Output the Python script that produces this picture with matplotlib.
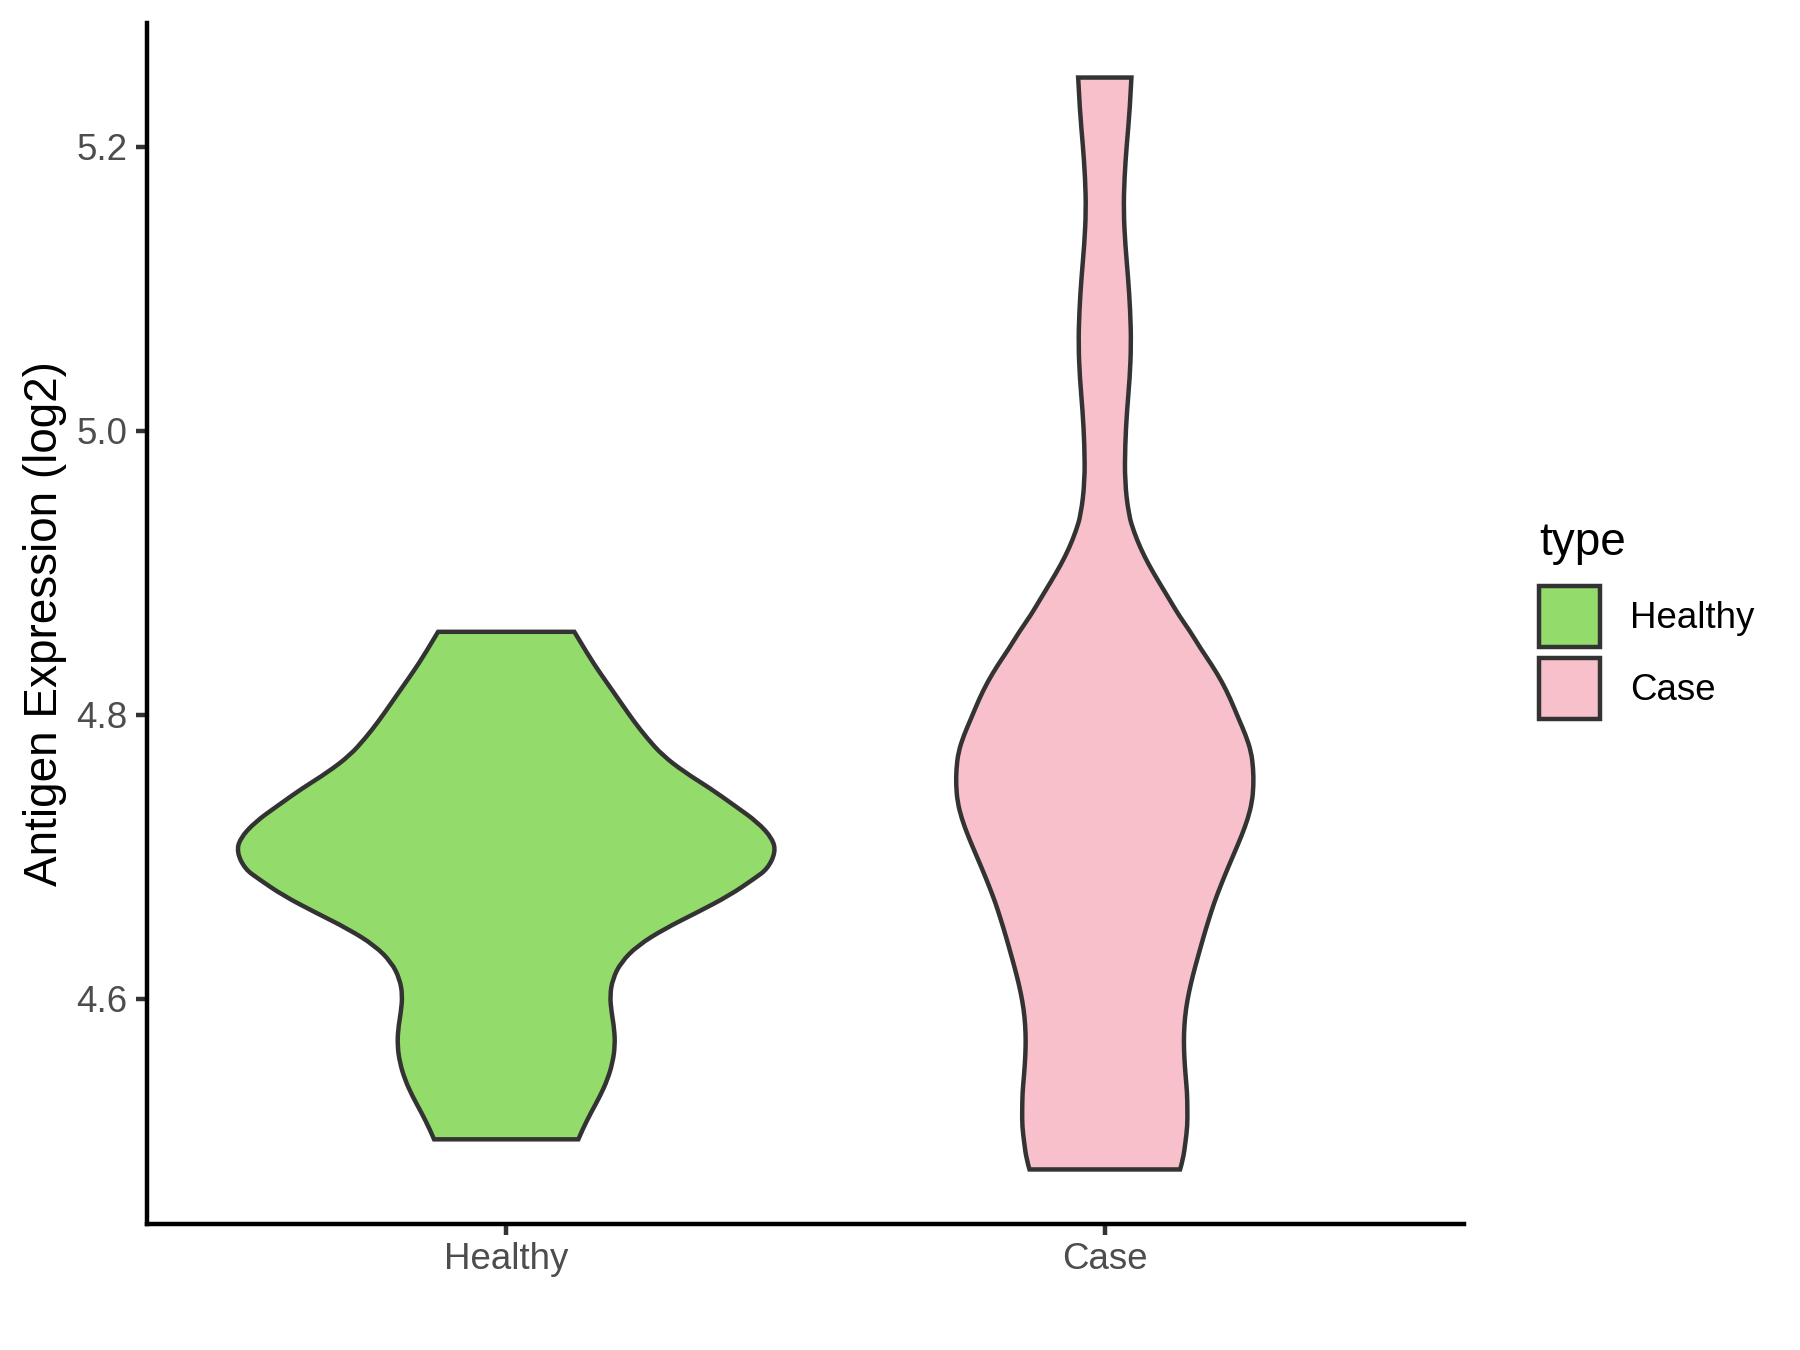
import matplotlib
matplotlib.use("Agg")
import matplotlib.pyplot as plt
from matplotlib.patches import Patch, PathPatch
from matplotlib.path import Path

plt.rcParams["font.family"] = ["Liberation Sans", "DejaVu Sans"]

groups = ["Healthy", "Case"]
fill_colors = ["#93DB6B", "#F7C0CB"]

# violin outlines: expression value and half width (x units)
healthy_y = [4.8585, 4.8421, 4.8303, 4.8186, 4.8068, 4.7951, 4.7833, 4.7716, 4.7598,
             4.748, 4.7363, 4.7245, 4.7128, 4.7034, 4.6916, 4.6846, 4.6728, 4.6611,
             4.6493, 4.6376, 4.6258, 4.614, 4.6023, 4.5906, 4.5788, 4.5671, 4.5553,
             4.5435, 4.5318, 4.52, 4.5083, 4.5012]
healthy_w = [0.1138, 0.137, 0.1555, 0.175, 0.1945, 0.214, 0.236, 0.261, 0.2975,
             0.342, 0.381, 0.42, 0.445, 0.45, 0.4366, 0.414, 0.3726, 0.3197,
             0.264, 0.2195, 0.1917, 0.1778, 0.1733, 0.176, 0.1806, 0.1817, 0.1778,
             0.1694, 0.157, 0.1416, 0.1277, 0.1205]

case_y = [5.2487, 5.2252, 5.2017, 5.1782, 5.1547, 5.1312, 5.1077, 5.0842, 5.0607,
          5.0372, 5.0137, 4.9902, 4.9643, 4.9408, 4.929, 4.9173, 4.9056, 4.8938,
          4.882, 4.8703, 4.8585, 4.8468, 4.835, 4.8233, 4.8115, 4.7974, 4.7857,
          4.7739, 4.7621, 4.7504, 4.7386, 4.7269, 4.7151, 4.7034, 4.6916, 4.6799,
          4.6681, 4.6563, 4.6446, 4.6281, 4.6164, 4.6047, 4.5929, 4.5812, 4.5694,
          4.5576, 4.5459, 4.5341, 4.5224, 4.5106, 4.4989, 4.4871, 4.480]
case_w = [0.0445, 0.0417, 0.0367, 0.0328, 0.0314, 0.0342, 0.039, 0.0426, 0.044,
          0.0417, 0.037, 0.034, 0.0334, 0.040, 0.0486, 0.0597, 0.0736, 0.090,
          0.107, 0.1235, 0.143, 0.160, 0.179, 0.1957, 0.2096, 0.2235, 0.2355,
          0.2446, 0.248, 0.2485, 0.246, 0.239, 0.2287, 0.217, 0.205, 0.1937,
          0.183, 0.174, 0.1655, 0.1545, 0.147, 0.1405, 0.1355, 0.1328, 0.132,
          0.133, 0.135, 0.1375, 0.138, 0.138, 0.1347, 0.1308, 0.1258]

y_ticks = [4.6, 4.8, 5.0, 5.2]


def smooth_side(pts):
    # quadratic bezier: measured points are control points, midpoints on the curve
    verts, codes = [], []
    n = len(pts)
    for k in range(1, n - 2):
        mid = ((pts[k][0] + pts[k + 1][0]) / 2, (pts[k][1] + pts[k + 1][1]) / 2)
        verts += [pts[k], mid]
        codes += [Path.CURVE3, Path.CURVE3]
    verts += [pts[n - 2], pts[n - 1]]
    codes += [Path.CURVE3, Path.CURVE3]
    return verts, codes


def violin_path(pos, ys, ws):
    left = [(pos - w, y) for w, y in zip(ws, ys)]
    right = [(pos + w, y) for w, y in zip(ws, ys)][::-1]
    verts, codes = [left[0]], [Path.MOVETO]
    v, c = smooth_side(left)
    verts += v
    codes += c
    verts.append(right[0])
    codes.append(Path.LINETO)
    v, c = smooth_side(right)
    verts += v
    codes += c
    verts.append(left[0])
    codes.append(Path.CLOSEPOLY)
    return Path(verts, codes)


fig = plt.figure(figsize=(6, 4.5), dpi=300)
ax = fig.add_axes([0.0817, 0.0933, 0.7316, 0.8897])

profiles = [(healthy_y, healthy_w), (case_y, case_w)]
for i, (ys, ws) in enumerate(profiles):
    patch = PathPatch(violin_path(i + 1, ys, ws), facecolor=fill_colors[i],
                      edgecolor="#333333", linewidth=1.07, zorder=2)
    ax.add_patch(patch)

# ggplot style 5% expansion of the data range
lo = min(min(healthy_y), min(case_y))
hi = max(max(healthy_y), max(case_y))
pad = (hi - lo) * 0.05
ax.set_xlim(0.4, 2.6)
ax.set_ylim(lo - pad, hi + pad)
ax.set_xticks([1, 2])
ax.set_xticklabels(groups)
ax.set_yticks(y_ticks)
ax.set_yticklabels(["%.1f" % t for t in y_ticks])
ax.tick_params(axis="both", length=2.75, width=1.07, color="#333333",
               labelcolor="#4D4D4D", labelsize=8.8, pad=2.0)
ax.tick_params(axis="x", pad=1.5)

for side in ["top", "right"]:
    ax.spines[side].set_visible(False)
for side in ["left", "bottom"]:
    ax.spines[side].set_linewidth(1.07)
    ax.spines[side].set_color("black")

ax.set_ylabel("Antigen Expression (log2)", fontsize=11, color="black")
ax.yaxis.set_label_coords(-0.0607, 0.5)

handles = [Patch(facecolor=c, edgecolor="#333333", linewidth=1.07, label=g)
           for c, g in zip(fill_colors, groups)]
leg = fig.legend(handles=handles, title="type", loc="upper left",
                 bbox_to_anchor=(1539 / 1800, 1 - 521 / 1350),
                 frameon=False, fontsize=8.8, title_fontsize=11,
                 handlelength=1.66, handleheight=2.175, labelspacing=0.31,
                 handletextpad=0.83, borderpad=0, borderaxespad=0,
                 alignment="left")
leg._legend_box.sep = 5

fig.savefig("out.png", dpi=300)
